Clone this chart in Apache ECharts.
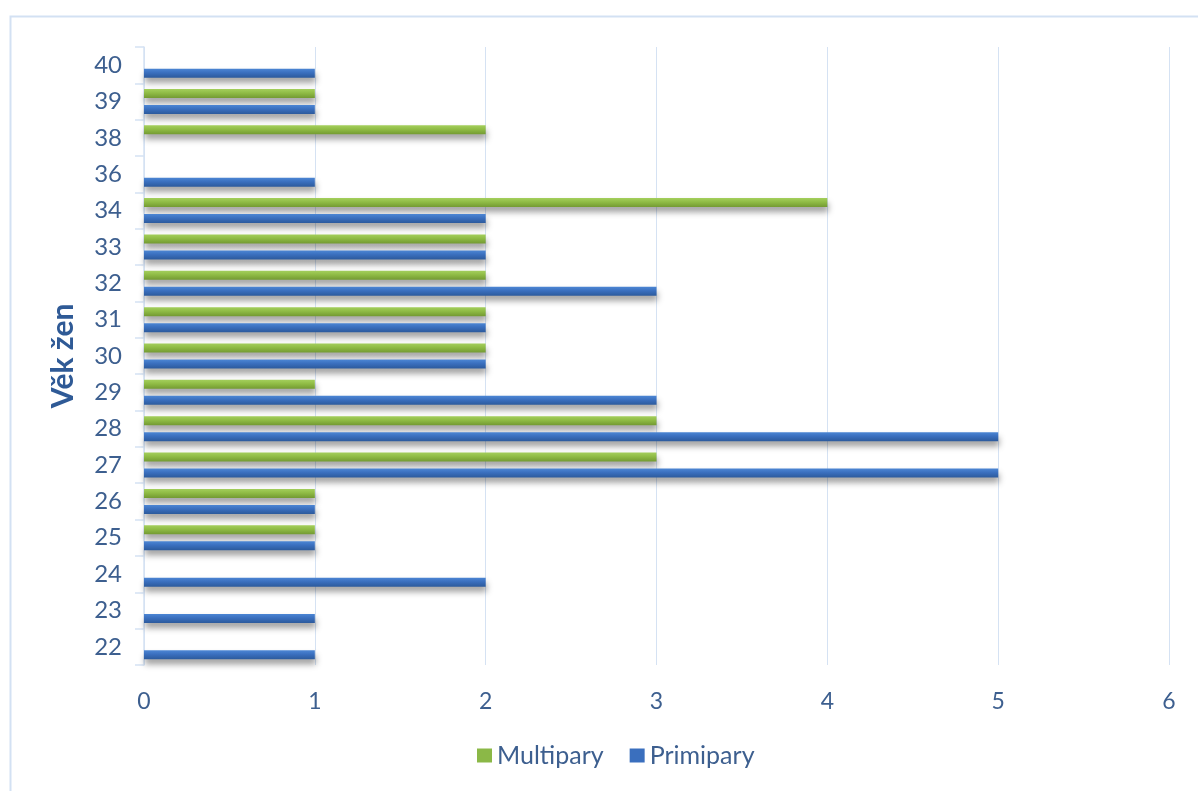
<!DOCTYPE html>
<html>
<head>
<meta charset="utf-8">
<script src="https://cdn.jsdelivr.net/npm/echarts@6/dist/echarts.min.js"></script>
<style>
  html, body { margin: 0; padding: 0; background: #ffffff; }
  #chart { width: 1198px; height: 791px; }
</style>
</head>
<body>
<div id="chart"></div>
<script>
// Age groups (years) and counts of women per group
const ages = ['22', '23', '24', '25', '26', '27', '28', '29', '30', '31', '32', '33', '34', '36', '38', '39', '40'];
const multipary = [null, null, null, 1, 1, 3, 3, 1, 2, 2, 2, 2, 4, null, 2, 1, null];
const primipary = [1, 1, 2, 1, 1, 5, 5, 3, 2, 2, 3, 2, 2, 1, null, 1, 1];
const xTicks = [0, 1, 2, 3, 4, 5, 6];

const textColor = '#3d5f8f';
const gridColor = '#d5e2f3';
const greenFlat = '#8bb847';
const blueFlat = '#3a6fbe';

function grad(top, mid, bottom) {
  return new echarts.graphic.LinearGradient(0, 0, 0, 1, [
    { offset: 0, color: top },
    { offset: 0.45, color: mid },
    { offset: 1, color: bottom }
  ]);
}

const chart = echarts.init(document.getElementById('chart'), null, { renderer: 'canvas' });

chart.setOption({
  animation: false,
  backgroundColor: '#ffffff',
  graphic: [{
    type: 'rect',
    left: 8, top: 14,
    shape: { width: 1210, height: 800 },
    style: { fill: 'none', stroke: '#d3e1f3', lineWidth: 2 },
    silent: true, z: -1
  }],
  grid: { left: 144, right: 29, top: 47, bottom: 126, containLabel: false },
  legend: {
    data: [
      { name: 'Multipary', itemStyle: { color: greenFlat, shadowBlur: 0, shadowOffsetX: 0, shadowOffsetY: 0 } },
      { name: 'Primipary', itemStyle: { color: blueFlat, shadowBlur: 0, shadowOffsetX: 0, shadowOffsetY: 0 } }
    ],
    bottom: 18,
    left: 472,
    itemWidth: 15,
    itemHeight: 14,
    itemGap: 26,
    icon: 'rect',
    textStyle: { fontFamily: 'Lato', fontSize: 25, color: textColor, padding: [0, 0, 0, 0] }
  },
  xAxis: {
    type: 'value',
    min: xTicks[0],
    max: xTicks[xTicks.length - 1],
    interval: 1,
    axisLine: { show: false },
    axisTick: { show: false },
    splitLine: { show: true, lineStyle: { color: gridColor, width: 1 } },
    axisLabel: {
      margin: 25,
      fontFamily: 'Lato', fontSize: 23, color: textColor,
      formatter: v => xTicks.includes(v) ? String(v) : ''
    }
  },
  yAxis: {
    type: 'category',
    data: ages,
    name: 'Věk žen',
    nameLocation: 'middle',
    nameGap: 66,
    nameRotate: 90,
    nameTextStyle: { fontFamily: 'Lato', fontWeight: 'bold', fontSize: 30, color: '#2f5a96' },
    axisLine: { show: true, lineStyle: { color: gridColor, width: 1.5 } },
    axisTick: { show: true, length: 9, lineStyle: { color: gridColor, width: 1.5 } },
    axisLabel: { margin: 22, fontFamily: 'Lato', fontSize: 24, color: textColor }
  },
  series: [
    {
      name: 'Multipary',
      type: 'bar',
      data: multipary,
      barWidth: 9,
      barGap: '78%',
      itemStyle: {
        color: grad('#a4cf5c', '#8fbb45', '#739a32'),
        shadowColor: 'rgba(0,0,0,0.38)',
        shadowBlur: 6,
        shadowOffsetY: 5,
        shadowOffsetX: 1
      }
    },
    {
      name: 'Primipary',
      type: 'bar',
      data: primipary,
      barWidth: 9,
      barGap: '78%',
      itemStyle: {
        color: grad('#4c86d4', '#3a6fbe', '#2c5a9c'),
        shadowColor: 'rgba(0,0,0,0.38)',
        shadowBlur: 6,
        shadowOffsetY: 5,
        shadowOffsetX: 1
      }
    }
  ]
});
</script>
</body>
</html>
